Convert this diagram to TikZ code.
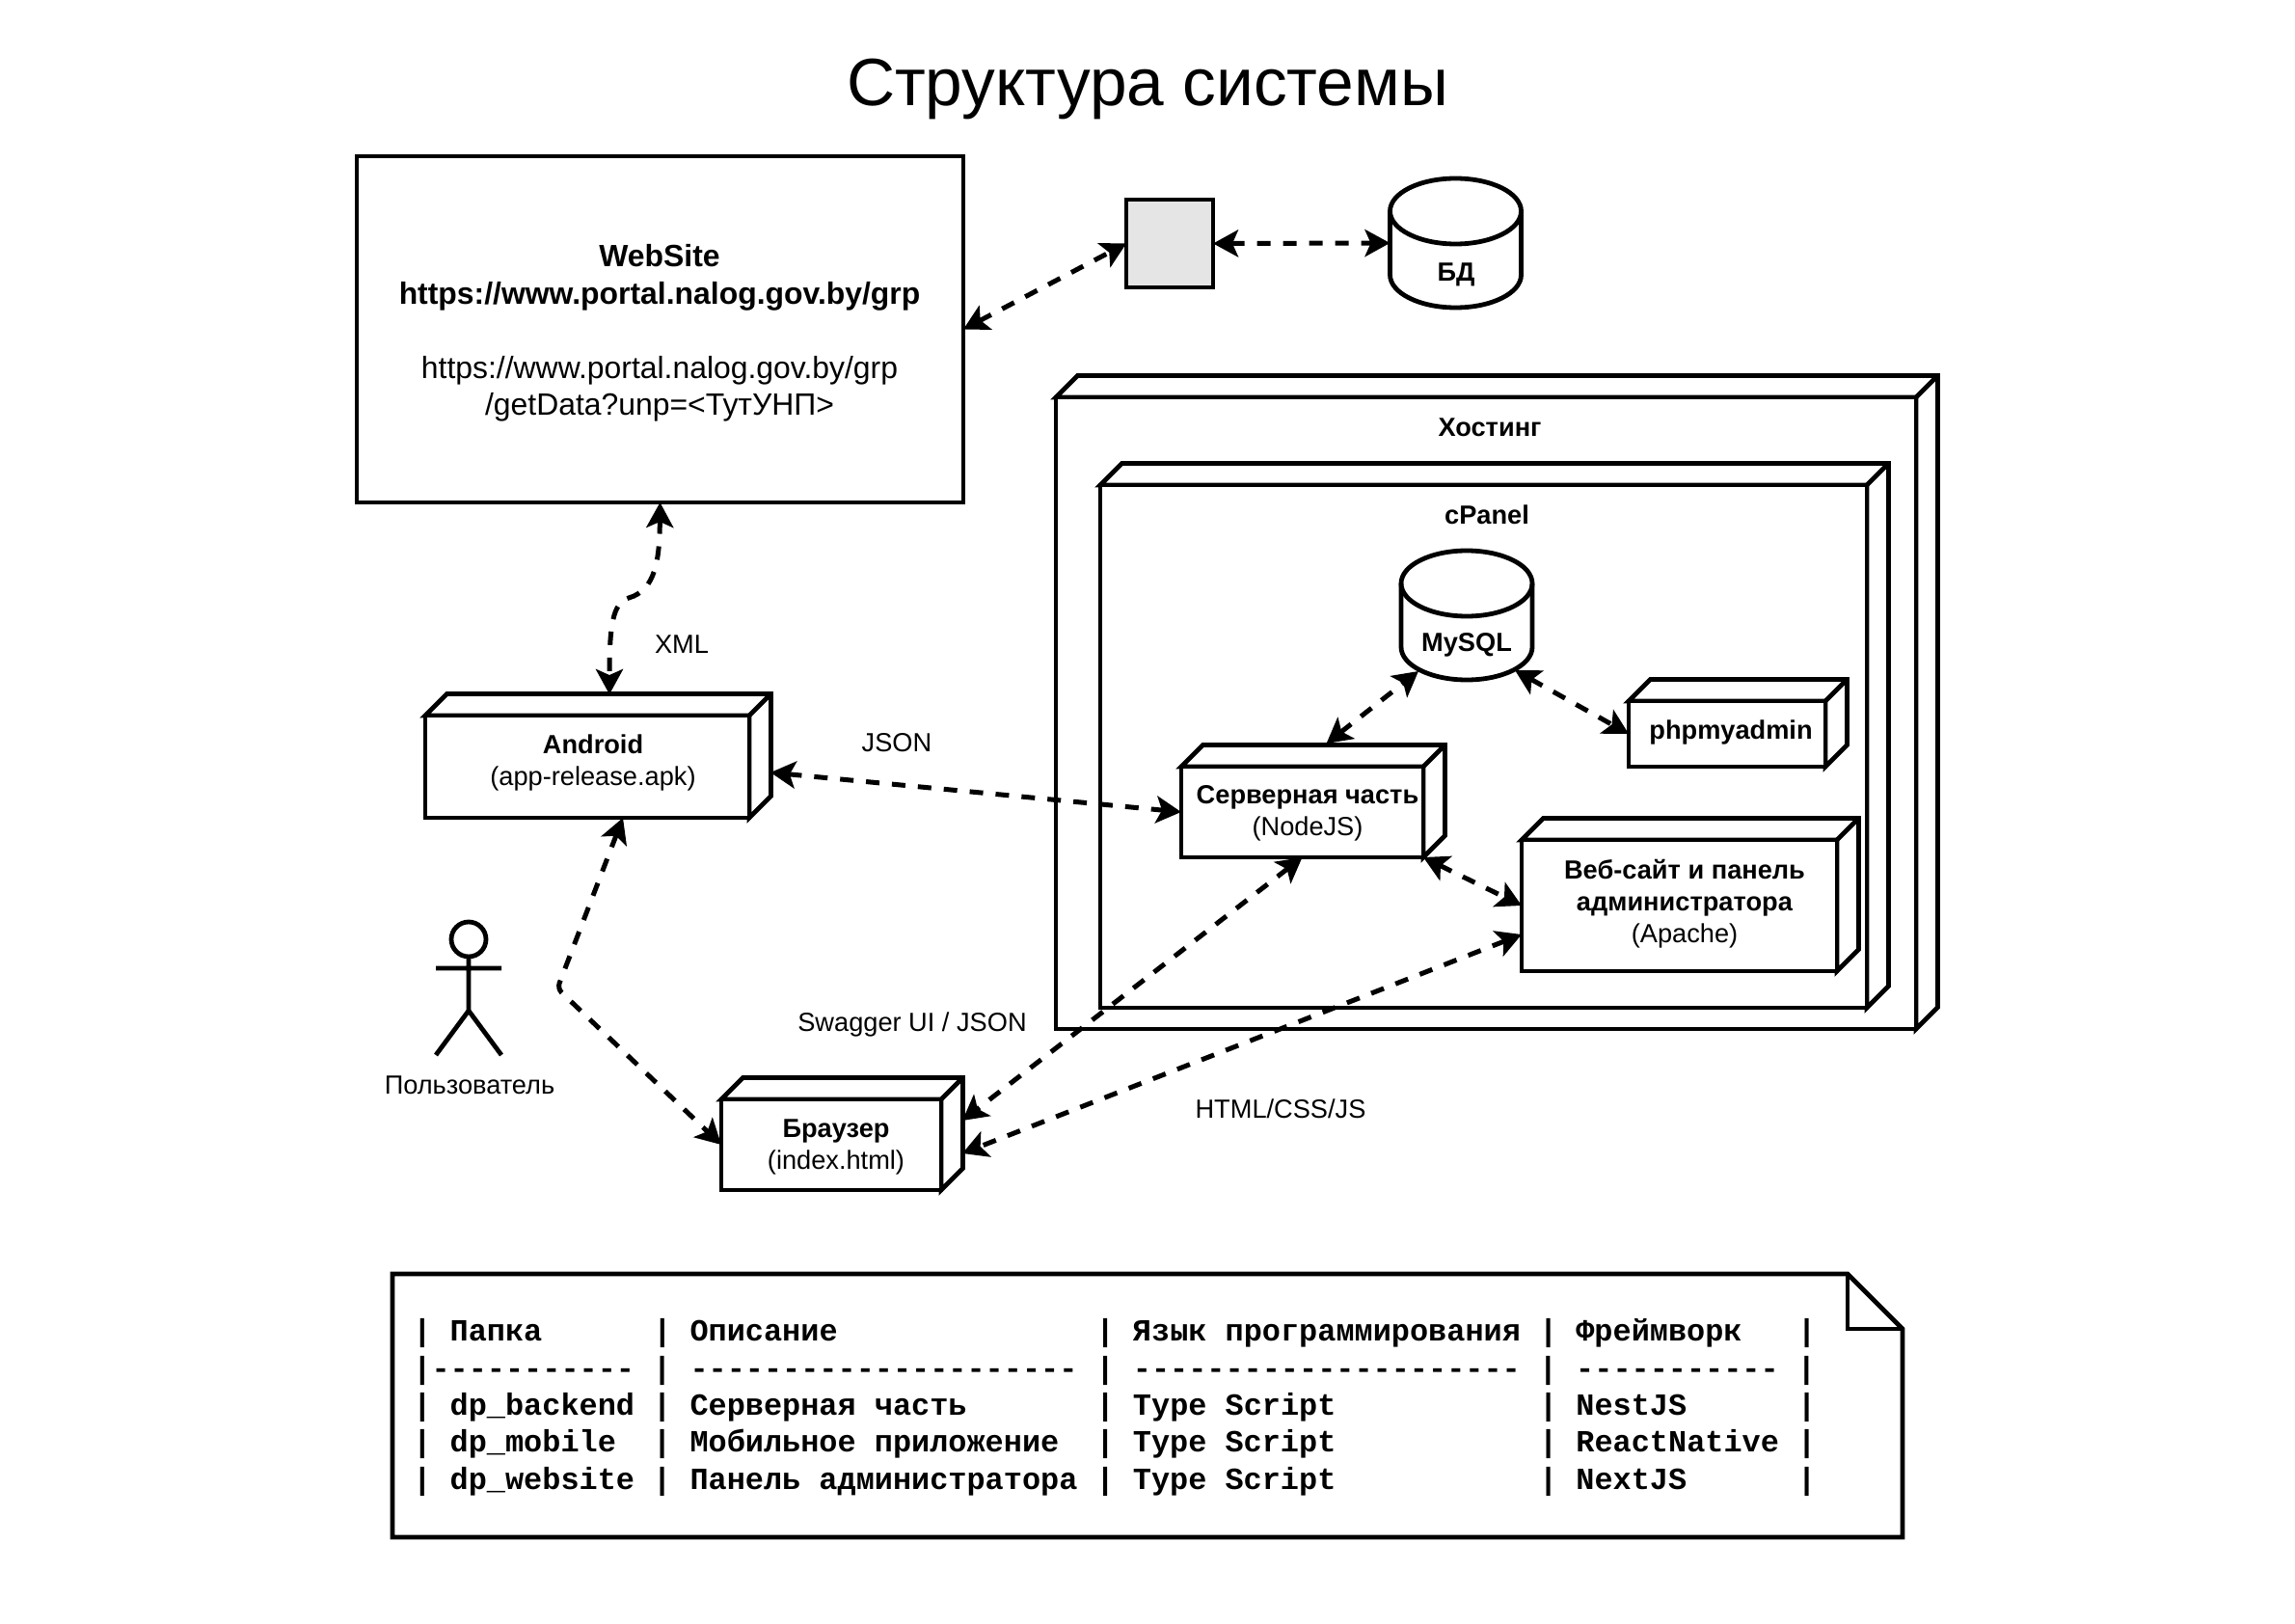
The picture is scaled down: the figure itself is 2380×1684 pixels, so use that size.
\documentclass[tikz,border=0pt]{standalone}
\usepackage{fontspec}
\setmainfont{Liberation Sans}
\setmonofont{Liberation Mono}
\usetikzlibrary{arrows.meta,calc}
\tikzset{
  ln/.style={line width=2.4pt,draw=black,line join=miter},
  box/.style={ln,fill=white,rectangle,inner sep=0pt,outer sep=0pt},
  cube/.style={box,
    append after command={\pgfextra{
      \draw[ln,fill=white] (\tikzlastnode.north west) -- ++(11.25pt,11.25pt) -- ($(\tikzlastnode.north east)+(11.25pt,11.25pt)$)
        -- ($(\tikzlastnode.south east)+(11.25pt,11.25pt)$) -- (\tikzlastnode.south east) -- (\tikzlastnode.north east) -- (\tikzlastnode.north west) -- cycle;
      \draw[ln] (\tikzlastnode.north east) -- ++(11.25pt,11.25pt);
    }}},
  cyl/.style={rectangle,inner sep=0pt,outer sep=0pt,minimum width=68pt,minimum height=67pt,
    append after command={\pgfextra{
      \draw[ln,fill=white] ($(\tikzlastnode.north west)+(0pt,-17pt)$)
        arc[start angle=180,end angle=0,x radius=34pt,y radius=17pt]
        -- ($(\tikzlastnode.south east)+(0pt,17pt)$)
        arc[start angle=0,end angle=-180,x radius=34pt,y radius=17pt] -- cycle;
      \draw[ln] ($(\tikzlastnode.north west)+(0pt,-17pt)$)
        arc[start angle=180,end angle=360,x radius=34pt,y radius=17pt];
    }}},
  txt/.style={font=\fontsize{13.6}{16.5}\selectfont,align=center,inner sep=0pt,outer sep=0pt},
  bigtxt/.style={font=\fontsize{15.95}{19.2}\selectfont,align=center,inner sep=0pt,outer sep=0pt},
  link/.style={line width=2.5pt,dash pattern=on 7pt off 6.5pt,
    {Stealth[length=13pt,width=14pt,inset=3pt]}-{Stealth[length=13pt,width=14pt,inset=3pt]}},
}
\begin{document}
\begin{tikzpicture}[x=0.5pt,y=-0.5pt]
\useasboundingbox (0,0) rectangle (2380,1684);
\node[inner sep=0pt,font=\fontsize{34.7}{40}\selectfont] (title) at (1190,92) {Структура системы};

% website
\node[box,minimum width=314.5pt,minimum height=179.5pt] (web) at (684.5,341.5) {};
\node[bigtxt] (webtext) at (684,345.5) {\textbf{WebSite}\\\textbf{https://www.portal.nalog.gov.by/grp}\\[19.2pt]https://www.portal.nalog.gov.by/grp\\/getData?unp=<ТутУНП>};
% gateway and database
\node[box,fill=black!10,minimum width=45pt,minimum height=45.5pt] (gate) at (1213,252.5) {};
\node[cyl] (db) at (1509.5,252) {};
\node[txt] (dbtext) at (1510,285) {\textbf{БД}};

% hosting
\node[cube,minimum width=446pt,minimum height=327.5pt] (hosting) at (1541,739.5) {};
\node[txt] (hostingtext) at (1545,443) {\textbf{Хостинг}};
\node[cube,minimum width=397.5pt,minimum height=271pt] (cpanel) at (1538.5,774) {};
\node[txt] (cpaneltext) at (1542,534) {\textbf{cPanel}};
\node[cyl] (mysql) at (1521,638) {};
\node[txt] (mysqltext) at (1521,669) {\textbf{MySQL}};
\node[cube,minimum width=102pt,minimum height=34pt] (php) at (1791,761) {};
\node[txt] (phptext) at (1795,759) {\textbf{phpmyadmin}};
\node[cube,minimum width=125.5pt,minimum height=47pt] (server) at (1350.5,842) {};
\node[txt] (servertext) at (1356,843) {\textbf{Серверная часть}\\(NodeJS)};
\node[cube,minimum width=163.5pt,minimum height=68pt] (site) at (1741.5,939) {};
\node[txt] (sitetext) at (1747,937) {\textbf{Веб-сайт и панель}\\\textbf{администратора}\\(Apache)};

% clients
\node[cube,minimum width=168pt,minimum height=53pt] (android) at (609,795) {};
\node[txt] (androidtext) at (615,791) {\textbf{Android}\\(app-release.apk)};
\node[cube,minimum width=114pt,minimum height=47pt] (browser) at (862,1187) {};
\node[txt] (browsertext) at (867,1189) {\textbf{Браузер}\\(index.html)};

% actor
\node[ln,circle,inner sep=0pt,outer sep=0pt,minimum size=18pt] (head) at (486,974) {};
\coordinate (neck) at (486,1048);
\coordinate (armL) at (452,1004);
\coordinate (armR) at (520,1004);
\coordinate (legL) at (452,1094);
\coordinate (legR) at (520,1094);
\draw[ln] (head.south) -- (neck) (armL) -- (armR) (legL) -- (neck) -- (legR);
\node[txt] (actortext) at (487,1125) {Пользователь};

% note
\coordinate (nA) at (407,1321);
\coordinate (nB) at (1916,1321);
\coordinate (nC) at (1973,1378);
\coordinate (nD) at (1973,1594);
\coordinate (nE) at (407,1594);
\coordinate (nF) at (1916,1378);
\draw[ln,fill=white] (nA) -- (nB) -- (nC) -- (nD) -- (nE) -- cycle;
\draw[ln] (nB) -- (nF) -- (nC);
\node[anchor=west,align=left,inner sep=0pt,font=\fontsize{15.95}{19.15}\selectfont\ttfamily\bfseries] (table) at (428,1459.5) {%
|~Папка~~~~~~|~Описание~~~~~~~~~~~~~~|~Язык~программирования~|~Фреймворк~~~|\\
|-----------~|~---------------------~|~---------------------~|~-----------~|\\
|~dp\_backend~|~Серверная~часть~~~~~~~|~Type~Script~~~~~~~~~~~|~NestJS~~~~~~|\\
|~dp\_mobile~~|~Мобильное~приложение~~|~Type~Script~~~~~~~~~~~|~ReactNative~|\\
|~dp\_website~|~Панель~администратора~|~Type~Script~~~~~~~~~~~|~NextJS~~~~~~|};

% labels
\node[txt] (xml) at (707,668) {XML};
\node[txt] (json) at (930,770) {JSON};
\node[txt] (swagger) at (946,1062) {Swagger UI / JSON};
\node[txt] (html) at (1328,1150) {HTML/CSS/JS};

% connectors
\coordinate (bendA) at (652,620);
\coordinate (bendB) at (578,1025);
\draw[link] (web.east) -- (gate.west);
\draw[link] (gate.east) -- (db.west);
\draw[link] (web.south) .. controls (684,580) and (680,612) .. (bendA) .. controls (635,625) and (632,650) .. ([shift={(11.5pt,11pt)}]android.north);
\draw[link] ([xshift=11pt,yshift=-3pt]android.east) -- (server.west);
\draw[link,rounded corners=3pt] ([xshift=18.5pt]android.south) -- (bendB) -- (browser.west);
\draw[link] (server.south) -- ([shift={(11pt,12.5pt)}]browser.east);
\draw[link] (site.west |- 0,969) -- ([shift={(11pt,-4.5pt)}]browser.east);
\draw[link] (server.south east) -- (site.west);
\draw[link] ([shift={(12.5pt,12pt)}]server.north) -- ([shift={(-25pt,4.5pt)}]mysql.south);
\draw[link] ([shift={(25pt,5pt)}]mysql.south) -- (php.west);
\end{tikzpicture}
\end{document}
